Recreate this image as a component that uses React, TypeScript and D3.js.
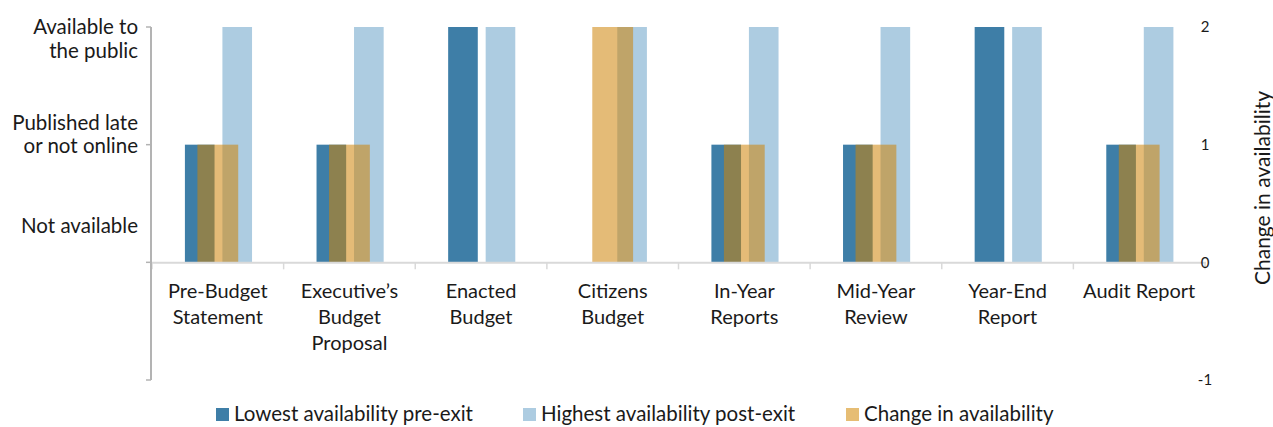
import { useEffect, useRef } from 'react';
import * as d3 from 'd3';

const categories = [
  ['Pre-Budget', 'Statement'],
  ['Executive\u2019s', 'Budget', 'Proposal'],
  ['Enacted', 'Budget'],
  ['Citizens', 'Budget'],
  ['In-Year', 'Reports'],
  ['Mid-Year', 'Review'],
  ['Year-End', 'Report'],
  ['Audit Report'],
];
const lowestPreExit = [1, 1, 2, 0, 1, 1, 2, 1];
const highestPostExit = [2, 2, 2, 2, 2, 2, 2, 2];
const changeInAvailability = [1, 1, 0, 2, 1, 1, 0, 1];
const leftLevels = [
  { value: 0, lines: ['Not available'] },
  { value: 1, lines: ['Published late', 'or not online'] },
  { value: 2, lines: ['Available to', 'the public'] },
];
const rightTicks = [-1, 0, 1, 2];
const seriesNames = ['Lowest availability pre-exit', 'Highest availability post-exit', 'Change in availability'];

const W = 1273;
const H = 427;
const FONT = 'Lato, "Open Sans", sans-serif';
const DARK = '#3e7ea7';
const LIGHT = '#adcce1';
const TAN = 'rgb(206,131,8)';
const TAN_OPACITY = 0.55;
const TAN_SWATCH = '#e6bd74';
const TEXT = '#1a1a1a';

export default function App() {
  const svgRef = useRef<SVGSVGElement>(null);

  useEffect(() => {
    if (!svgRef.current) return;
    const svg = d3.select(svgRef.current);
    svg.selectAll('*').remove();

    const keys = categories.map((_, i) => String(i));
    const x0 = d3.scaleBand().domain(keys).range([152, 1205]);
    const bw = x0.bandwidth();
    const x1 = d3.scaleBand().domain(['low', 'high']).range([bw * 0.25, bw * 0.76]).paddingInner(0.21);
    const y = d3.scaleLinear().domain([-1, 2]).range([380, 27]);
    const tanW = bw * 0.31;

    const g = svg.append('g');

    // bars
    keys.forEach((k, i) => {
      const gx = x0(k)!;
      g.append('rect')
        .attr('x', gx + x1('low')!)
        .attr('width', x1.bandwidth())
        .attr('y', y(lowestPreExit[i]))
        .attr('height', y(0) - y(lowestPreExit[i]))
        .attr('fill', DARK);
      g.append('rect')
        .attr('x', gx + x1('high')!)
        .attr('width', x1.bandwidth())
        .attr('y', y(highestPostExit[i]))
        .attr('height', y(0) - y(highestPostExit[i]))
        .attr('fill', LIGHT);
    });
    // change series on the secondary axis, drawn translucent over the pair
    keys.forEach((k, i) => {
      const v = changeInAvailability[i];
      if (v === 0) return;
      g.append('rect')
        .attr('x', x0(k)! + bw / 2 - tanW / 2)
        .attr('width', tanW)
        .attr('y', y(v))
        .attr('height', y(0) - y(v))
        .attr('fill', TAN)
        .attr('fill-opacity', TAN_OPACITY);
    });

    // x axis line at zero
    g.append('line')
      .attr('x1', 150).attr('x2', 1206)
      .attr('y1', y(0) + 0.5).attr('y2', y(0) + 0.5)
      .attr('stroke', '#d9d9d9').attr('stroke-width', 2);
    [...keys.map((k) => x0(k)!), 1205].forEach((tx) => {
      g.append('line')
        .attr('x1', tx).attr('x2', tx)
        .attr('y1', y(0)).attr('y2', y(0) + 7)
        .attr('stroke', '#d9d9d9').attr('stroke-width', 1.5);
    });

    // left axis
    g.append('line')
      .attr('x1', 151).attr('x2', 151)
      .attr('y1', y(2)).attr('y2', y(-1))
      .attr('stroke', '#b3b3b3').attr('stroke-width', 2);
    [2, 1, 0, -1].forEach((v) => {
      g.append('line')
        .attr('x1', 146).attr('x2', 151)
        .attr('y1', y(v)).attr('y2', y(v))
        .attr('stroke', '#b3b3b3').attr('stroke-width', 1.5);
    });

    // left labels
    const lineH = 23.5;
    const leftOffsets: Record<number, number> = { 2: 0, 1: -22, 0: -37 };
    leftLevels.forEach((lvl) => {
      const t = g.append('text')
        .attr('text-anchor', 'end')
        .attr('font-family', FONT)
        .attr('font-size', 20.5)
        .attr('fill', TEXT);
      lvl.lines.forEach((ln, j) => {
        t.append('tspan')
          .attr('x', 138)
          .attr('y', y(lvl.value) + leftOffsets[lvl.value] + j * lineH)
          .attr('dy', '0.35em')
          .text(ln);
      });
    });

    // category labels
    keys.forEach((k, i) => {
      const t = g.append('text')
        .attr('text-anchor', 'middle')
        .attr('font-family', FONT)
        .attr('font-size', 20)
        .attr('fill', TEXT);
      categories[i].forEach((ln, j) => {
        t.append('tspan')
          .attr('x', x0(k)! + bw / 2)
          .attr('y', 291 + j * 26)
          .attr('dy', '0.35em')
          .text(ln);
      });
    });

    // right axis labels
    rightTicks.forEach((v) => {
      g.append('text')
        .attr('x', 1205)
        .attr('y', y(v))
        .attr('dy', '0.35em')
        .attr('text-anchor', 'middle')
        .attr('font-family', FONT)
        .attr('font-size', 15)
        .attr('fill', TEXT)
        .text(v);
    });
    g.append('text')
      .attr('transform', `translate(1263, 188) rotate(-90)`)
      .attr('text-anchor', 'middle')
      .attr('dy', '0.35em')
      .attr('font-family', FONT)
      .attr('font-size', 21)
      .attr('fill', TEXT)
      .text('Change in availability');

    // legend
    const swatches = [DARK, LIGHT, TAN_SWATCH];
    const legendX = [216, 523, 846];
    seriesNames.forEach((name, i) => {
      g.append('rect')
        .attr('x', legendX[i]).attr('y', 408)
        .attr('width', 13).attr('height', 13)
        .attr('fill', swatches[i]);
      g.append('text')
        .attr('x', legendX[i] + 18)
        .attr('y', 414)
        .attr('dy', '0.35em')
        .attr('font-family', FONT)
        .attr('font-size', 20.5)
        .attr('fill', TEXT)
        .text(name);
    });
  }, []);

  return (
    <div style={{ position: 'fixed', left: 0, top: 0, width: W, height: H, background: '#fff' }}>
      <svg ref={svgRef} width={W} height={H} />
    </div>
  );
}
